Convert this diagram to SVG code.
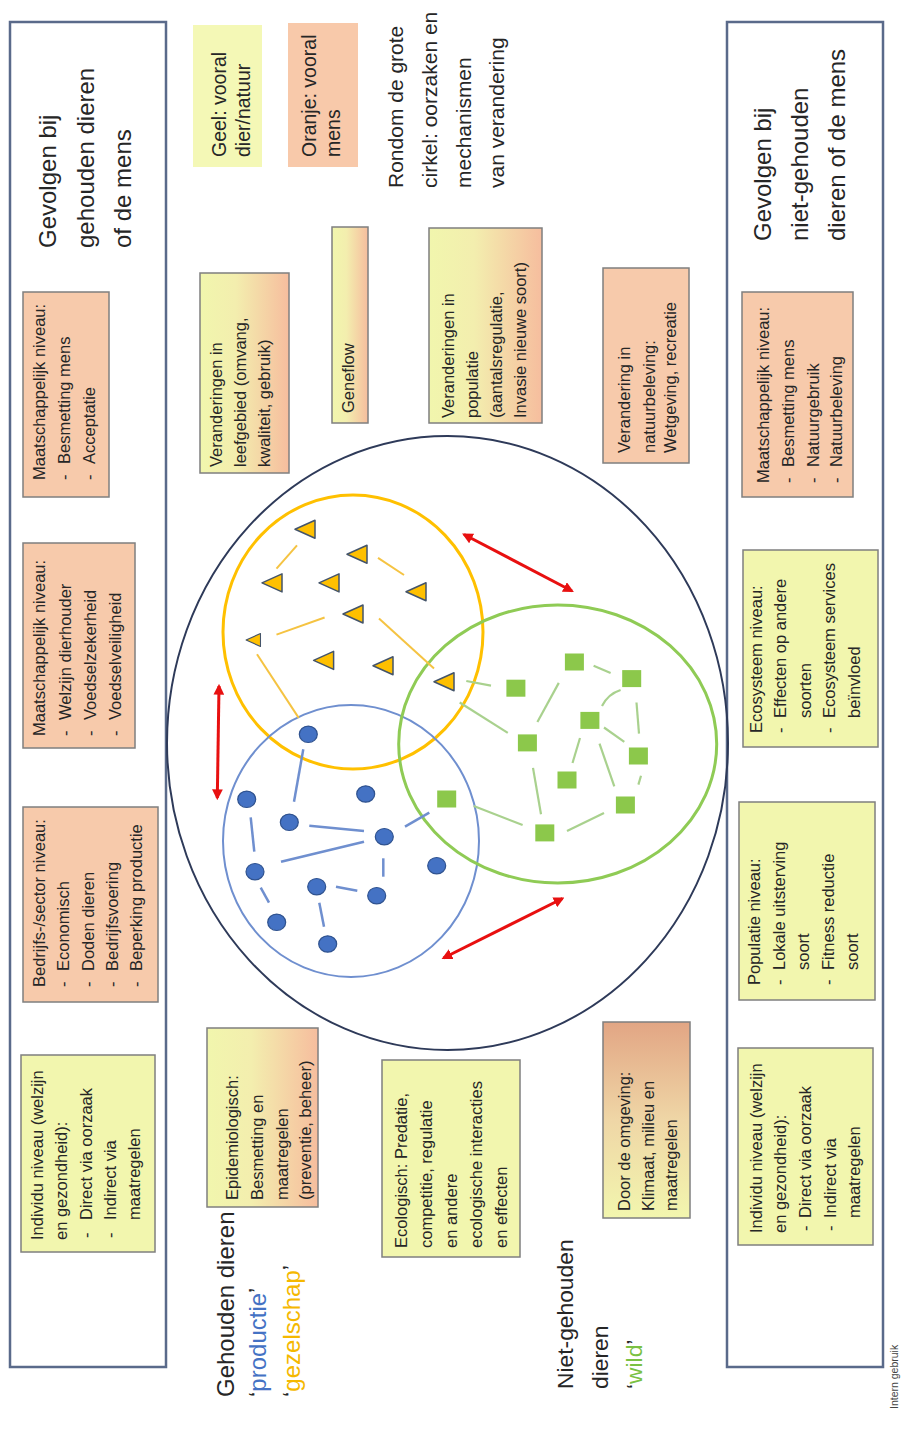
<svg xmlns="http://www.w3.org/2000/svg" xmlns:xlink="http://www.w3.org/1999/xlink" width="907" height="1429" viewBox="0 0 907 1429">
<defs>
<style>
.frame{fill:#fff;stroke:#5a6a8a;stroke-width:2.5}
.yel{fill:#f2f6ae;stroke:#7f7f7f;stroke-width:1.5}
.ora{fill:#f7caab;stroke:#7f7f7f;stroke-width:1.5}
.gr1{fill:url(#gYO);stroke:#7f7f7f;stroke-width:1.5}
.gr2{fill:url(#gOY);stroke:#7f7f7f;stroke-width:1.5}
.bx{font-family:"Liberation Sans",Arial,sans-serif;font-size:16.5px;fill:#262626}
.tt{font-family:"Liberation Sans",Arial,sans-serif;font-size:24px;fill:#262626}
.lg{font-family:"Liberation Sans",Arial,sans-serif;font-size:19.5px;fill:#262626}
.rd{font-family:"Liberation Sans",Arial,sans-serif;font-size:21px;fill:#262626}
.sm{font-family:"Liberation Sans",Arial,sans-serif;font-size:10.5px;fill:#444}
.tri{fill:#ffc000;stroke:#44546a;stroke-width:1.5;stroke-linejoin:round}
.dot{fill:#4472c4;stroke:#2f528f;stroke-width:1.2}
.sq{fill:#8cc84b}
.ly{stroke:#f5c342;stroke-width:2;fill:none}
.lb{stroke:#6f8fcf;stroke-width:2.5;fill:none}
.lgr{stroke:#a9d18e;stroke-width:2.2;fill:none}
.arr{stroke:#e81010;stroke-width:3;fill:none;marker-start:url(#ah);marker-end:url(#ah)}
</style>
<linearGradient id="gYO" x1="0" y1="0" x2="1" y2="0">
<stop offset="0" stop-color="#f1f6ad"/>
<stop offset="0.4" stop-color="#f3eeae"/>
<stop offset="1" stop-color="#f6bd9e"/>
</linearGradient>
<linearGradient id="gOY" x1="0" y1="0" x2="0" y2="1">
<stop offset="0" stop-color="#e2a584"/>
<stop offset="0.5" stop-color="#efd6a6"/>
<stop offset="1" stop-color="#f2f6ae"/>
</linearGradient>
<marker id="ah" viewBox="0 0 10 10" refX="8" refY="5" markerWidth="3.6" markerHeight="3.6" orient="auto-start-reverse" markerUnits="strokeWidth">
<path d="M0,0 L10,5 L0,10 Z" fill="#e81010"/>
</marker>
<path id="tri" class="tri" d="M-11,0 L9,-9 L9,9 Z"/>
<ellipse id="dot" class="dot" rx="9" ry="8.2"/>
<rect id="sq" class="sq" x="-9.5" y="-8.5" width="19" height="17"/>
</defs>

<g id="frame-left"><rect class="frame" x="10" y="22" width="156" height="1345"/></g>
<g id="frame-right"><rect class="frame" x="727" y="22" width="156" height="1345"/></g>

<g id="title-left"><text class="tt" transform="rotate(-90)"><tspan x="-248" y="56">Gevolgen bij</tspan><tspan x="-248" y="94">gehouden dieren</tspan><tspan x="-248" y="131">of de mens</tspan></text></g>
<g id="title-right"><text class="tt" transform="rotate(-90)"><tspan x="-241" y="770.5">Gevolgen bij</tspan><tspan x="-241" y="807.5">niet-gehouden</tspan><tspan x="-241" y="844.5">dieren of de mens</tspan></text></g>

<g id="l-maatsch1"><rect class="ora" x="23" y="292" width="86" height="205"/>
<text class="bx" transform="rotate(-90)"><tspan x="-480" y="44.5">Maatschappelijk niveau:</tspan><tspan x="-480" y="69.5">-</tspan><tspan x="-464" y="69.5">Besmetting mens</tspan><tspan x="-480" y="94.5">-</tspan><tspan x="-464" y="94.5">Acceptatie</tspan></text></g>

<g id="l-maatsch2"><rect class="ora" x="23" y="543" width="112" height="205"/>
<text class="bx" transform="rotate(-90)"><tspan x="-736" y="45">Maatschappelijk niveau:</tspan><tspan x="-736" y="70.5">-</tspan><tspan x="-720" y="70.5">Welzijn dierhouder</tspan><tspan x="-736" y="96">-</tspan><tspan x="-720" y="96">Voedselzekerheid</tspan><tspan x="-736" y="121">-</tspan><tspan x="-720" y="121">Voedselveiligheid</tspan></text></g>

<g id="l-bedrijf"><rect class="ora" x="23" y="807" width="135" height="195"/>
<text class="bx" transform="rotate(-90)"><tspan x="-987" y="45">Bedrijfs-/sector niveau:</tspan><tspan x="-987" y="69">-</tspan><tspan x="-971" y="69">Economisch</tspan><tspan x="-987" y="93.5">-</tspan><tspan x="-971" y="93.5">Doden dieren</tspan><tspan x="-987" y="118">-</tspan><tspan x="-971" y="118">Bedrijfsvoering</tspan><tspan x="-987" y="142">-</tspan><tspan x="-971" y="142">Beperking productie</tspan></text></g>

<g id="l-individu"><rect class="yel" x="21" y="1055" width="134" height="197"/>
<text class="bx" transform="rotate(-90)"><tspan x="-1240" y="43">Individu niveau (welzijn</tspan><tspan x="-1240" y="67">en gezondheid):</tspan><tspan x="-1238" y="91.5">-</tspan><tspan x="-1220" y="91.5">Direct via oorzaak</tspan><tspan x="-1238" y="115.5">-</tspan><tspan x="-1220" y="115.5">Indirect via</tspan><tspan x="-1220" y="140">maatregelen</tspan></text></g>

<g id="legend-geel"><rect x="193" y="25" width="69" height="142" fill="#f4f8b6"/>
<text class="lg" transform="rotate(-90)"><tspan x="-157" y="226">Geel: vooral</tspan><tspan x="-157" y="250">dier/natuur</tspan></text></g>
<g id="legend-oranje"><rect x="288" y="23" width="70" height="144" fill="#f8c9aa"/>
<text class="lg" transform="rotate(-90)"><tspan x="-157" y="316">Oranje: vooral</tspan><tspan x="-157" y="340">mens</tspan></text></g>

<g id="rondom"><text class="rd" transform="rotate(-90)"><tspan x="-188" y="403">Rondom de grote</tspan><tspan x="-188" y="437">cirkel: oorzaken en</tspan><tspan x="-188" y="471">mechanismen</tspan><tspan x="-188" y="504">van verandering</tspan></text></g>

<g id="c-leefgebied"><rect class="gr1" x="200" y="273" width="89" height="200"/>
<text class="bx" transform="rotate(-90)"><tspan x="-467" y="221.5">Veranderingen in</tspan><tspan x="-467" y="246">leefgebied (omvang,</tspan><tspan x="-467" y="270">kwaliteit, gebruik)</tspan></text></g>

<g id="c-geneflow"><rect class="gr1" x="332" y="227" width="36" height="196"/>
<text class="bx" transform="rotate(-90)"><tspan x="-413" y="354">Geneflow</tspan></text></g>

<g id="c-populatie"><rect class="gr1" x="429" y="228" width="113" height="195"/>
<text class="bx" transform="rotate(-90)"><tspan x="-418" y="453.5">Veranderingen in</tspan><tspan x="-418" y="478">populatie</tspan><tspan x="-418" y="501.5">(aantalsregulatie,</tspan><tspan x="-418" y="525.5">Invasie nieuwe soort)</tspan></text></g>

<g id="c-natuurbeleving"><rect class="ora" x="603" y="268" width="86" height="195"/>
<text class="bx" transform="rotate(-90)"><tspan x="-453" y="630">Verandering in</tspan><tspan x="-453" y="654.5">natuurbeleving:</tspan><tspan x="-453" y="676">Wetgeving, recreatie</tspan></text></g>

<g id="c-epidemiologisch"><rect class="gr1" x="207" y="1028" width="111" height="179"/>
<text class="bx" transform="rotate(-90)"><tspan x="-1200" y="238">Epidemiologisch:</tspan><tspan x="-1200" y="263">Besmetting en</tspan><tspan x="-1200" y="288">maatregelen</tspan><tspan x="-1200" y="311">(preventie, beheer)</tspan></text></g>

<g id="c-ecologisch"><rect class="yel" x="382" y="1060" width="138" height="197"/>
<text class="bx" transform="rotate(-90)"><tspan x="-1248" y="407">Ecologisch: Predatie,</tspan><tspan x="-1248" y="432">competitie, regulatie</tspan><tspan x="-1248" y="457">en andere</tspan><tspan x="-1248" y="482">ecologische interacties</tspan><tspan x="-1248" y="507">en effecten</tspan></text></g>

<g id="c-omgeving"><rect class="gr2" x="603" y="1022" width="87" height="196"/>
<text class="bx" transform="rotate(-90)"><tspan x="-1211" y="630">Door de omgeving:</tspan><tspan x="-1211" y="654">Klimaat, milieu en</tspan><tspan x="-1211" y="677">maatregelen</tspan></text></g>

<g id="r-maatsch"><rect class="ora" x="742" y="292" width="111" height="205"/>
<text class="bx" transform="rotate(-90)"><tspan x="-483" y="768.5">Maatschappelijk niveau:</tspan><tspan x="-483" y="794">-</tspan><tspan x="-467" y="794">Besmetting mens</tspan><tspan x="-483" y="818.5">-</tspan><tspan x="-467" y="818.5">Natuurgebruik</tspan><tspan x="-483" y="842">-</tspan><tspan x="-467" y="842">Natuurbeleving</tspan></text></g>

<g id="r-ecosysteem"><rect class="yel" x="743" y="550" width="135" height="197"/>
<text class="bx" transform="rotate(-90)"><tspan x="-733" y="761.5">Ecosysteem niveau:</tspan><tspan x="-733" y="786">-</tspan><tspan x="-718" y="786">Effecten op andere</tspan><tspan x="-718" y="810.5">soorten</tspan><tspan x="-733" y="835">-</tspan><tspan x="-718" y="835">Ecosysteem services</tspan><tspan x="-718" y="859.5">beïnvloed</tspan></text></g>

<g id="r-populatie"><rect class="yel" x="739" y="802" width="136" height="198"/>
<text class="bx" transform="rotate(-90)"><tspan x="-985" y="760">Populatie niveau:</tspan><tspan x="-985" y="784.5">-</tspan><tspan x="-970" y="784.5">Lokale uitsterving</tspan><tspan x="-970" y="809">soort</tspan><tspan x="-985" y="833.5">-</tspan><tspan x="-970" y="833.5">Fitness reductie</tspan><tspan x="-970" y="858">soort</tspan></text></g>

<g id="r-individu"><rect class="yel" x="738" y="1048" width="135" height="197"/>
<text class="bx" transform="rotate(-90)"><tspan x="-1233" y="761.5">Individu niveau (welzijn</tspan><tspan x="-1233" y="786">en gezondheid):</tspan><tspan x="-1231" y="811">-</tspan><tspan x="-1218" y="811">Direct via oorzaak</tspan><tspan x="-1231" y="835.5">-</tspan><tspan x="-1218" y="835.5">Indirect via</tspan><tspan x="-1218" y="860">maatregelen</tspan></text></g>

<g id="label-gehouden"><text class="tt" transform="rotate(-90)"><tspan x="-1397" y="234">Gehouden dieren</tspan><tspan x="-1397" y="266">‘<tspan fill="#4472c4">productie</tspan>’</tspan><tspan x="-1397" y="300">‘<tspan fill="#f5b800">gezelschap</tspan>’</tspan></text></g>

<g id="label-niet-gehouden"><text class="tt" style="font-size:22.8px" transform="rotate(-90)"><tspan x="-1389" y="572.5">Niet-gehouden</tspan><tspan x="-1389" y="607.5">dieren</tspan><tspan x="-1389" y="641.5">‘<tspan fill="#7ac143">wild</tspan>’</tspan></text></g>

<g id="intern"><text class="sm" transform="rotate(-90)" x="-1409" y="898">Intern gebruik</text></g>

<g id="big-circle"><ellipse cx="447.5" cy="743" rx="280.5" ry="307" fill="none" stroke="#2e3a59" stroke-width="2"/></g>
<g id="circle-gezelschap"><ellipse cx="353" cy="632" rx="130" ry="137" fill="none" stroke="#ffc000" stroke-width="3"/></g>
<g id="circle-productie"><ellipse cx="351" cy="841" rx="128" ry="136" fill="none" stroke="#6f8fcf" stroke-width="2"/></g>
<g id="circle-wild"><ellipse cx="557.7" cy="744" rx="159" ry="139" fill="none" stroke="#8fcb55" stroke-width="3"/></g>

<g id="connectors">
<line class="ly" x1="297" y1="545.4" x2="276.5" y2="568.6"/>
<line class="ly" x1="378" y1="557.9" x2="404" y2="575"/>
<line class="ly" x1="276.5" y1="634.6" x2="324.6" y2="617.5"/>
<line class="ly" x1="379" y1="618.6" x2="434" y2="668.6"/>
<line class="ly" x1="257" y1="654.3" x2="298.7" y2="717.9"/>
<line class="lb" x1="303.3" y1="749.3" x2="294" y2="801.7"/>
<line class="lb" x1="250.7" y1="817.3" x2="254.3" y2="851.7"/>
<line class="lb" x1="309.3" y1="825.7" x2="364" y2="831"/>
<line class="lb" x1="281" y1="861.7" x2="364" y2="841.7"/>
<line class="lb" x1="405" y1="826.7" x2="429.3" y2="812.7"/>
<line class="lb" x1="383.3" y1="858.3" x2="383.3" y2="876.7"/>
<line class="lb" x1="336" y1="886.7" x2="357.3" y2="890.7"/>
<line class="lb" x1="260.7" y1="887.7" x2="269" y2="902.7"/>
<line class="lb" x1="319.3" y1="902.7" x2="324" y2="926.7"/>
<line class="lgr" x1="466.3" y1="681" x2="491" y2="685.7"/>
<line class="lgr" x1="459.7" y1="702.5" x2="507.8" y2="732.9"/>
<line class="lgr" x1="537.4" y1="722" x2="558.8" y2="682.9"/>
<line class="lgr" x1="593.6" y1="665.7" x2="610.6" y2="672.9"/>
<path class="lgr" d="M602,706 Q608,694 620.6,690"/>
<line class="lgr" x1="636.5" y1="702.5" x2="639" y2="733.6"/>
<line class="lgr" x1="604" y1="727.5" x2="624.3" y2="741.8"/>
<line class="lgr" x1="580" y1="738" x2="572.5" y2="763"/>
<line class="lgr" x1="599.5" y1="743.6" x2="614.3" y2="786.4"/>
<line class="lgr" x1="641" y1="775.7" x2="638.4" y2="784.6"/>
<line class="lgr" x1="533" y1="767.9" x2="541" y2="814.3"/>
<line class="lgr" x1="473.7" y1="806" x2="522.6" y2="825"/>
<line class="lgr" x1="567" y1="831" x2="604" y2="813"/>
<line class="arr" x1="219" y1="686" x2="217.3" y2="798"/>
<line class="arr" x1="464" y1="534.5" x2="572" y2="591"/>
<line class="arr" x1="443.5" y1="958" x2="562.5" y2="898.5"/>
</g>

<g id="nodes-gezelschap">
<use id="t1" xlink:href="#tri" href="#tri" x="306" y="529.3"/>
<use id="t2" xlink:href="#tri" href="#tri" x="358" y="554.3"/>
<use id="t3" xlink:href="#tri" href="#tri" x="273" y="582.9"/>
<use id="t4" xlink:href="#tri" href="#tri" x="330" y="582.9"/>
<use id="t5" xlink:href="#tri" href="#tri" x="417" y="591.8"/>
<use id="t6" xlink:href="#tri" href="#tri" x="354" y="614"/>
<use id="t7" xlink:href="#tri" href="#tri" transform="translate(254,640) scale(0.72)"/>
<use id="t8" xlink:href="#tri" href="#tri" x="324.6" y="660.4"/>
<use id="t9" xlink:href="#tri" href="#tri" x="384" y="665.7"/>
<use id="t10" xlink:href="#tri" href="#tri" x="445" y="681.8"/>
</g>
<g id="nodes-productie">
<use id="b1" href="#dot" x="308.3" y="734.3"/>
<use id="b2" href="#dot" x="246.7" y="799.3"/>
<use id="b3" href="#dot" x="365.7" y="794"/>
<use id="b4" href="#dot" x="289.3" y="822.3"/>
<use id="b5" href="#dot" x="384.3" y="836.7"/>
<use id="b6" href="#dot" x="255" y="871.7"/>
<use id="b7" href="#dot" x="436.7" y="865.7"/>
<use id="b8" href="#dot" x="316.7" y="886.7"/>
<use id="b9" href="#dot" x="376.7" y="895.7"/>
<use id="b10" href="#dot" x="276.7" y="922.3"/>
<use id="b11" href="#dot" x="327.7" y="944"/>
</g>
<g id="nodes-wild">
<use id="s1" href="#sq" x="446.7" y="799"/>
<use id="s2" href="#sq" x="574.4" y="662"/>
<use id="s3" href="#sq" x="631.7" y="678.6"/>
<use id="s4" href="#sq" x="515.9" y="688.2"/>
<use id="s5" href="#sq" x="589.9" y="720.4"/>
<use id="s6" href="#sq" x="527.4" y="742.9"/>
<use id="s7" href="#sq" x="638.4" y="756"/>
<use id="s8" href="#sq" x="567" y="780"/>
<use id="s9" href="#sq" x="625.4" y="805"/>
<use id="s10" href="#sq" x="544.8" y="832.9"/>
</g>
</svg>
